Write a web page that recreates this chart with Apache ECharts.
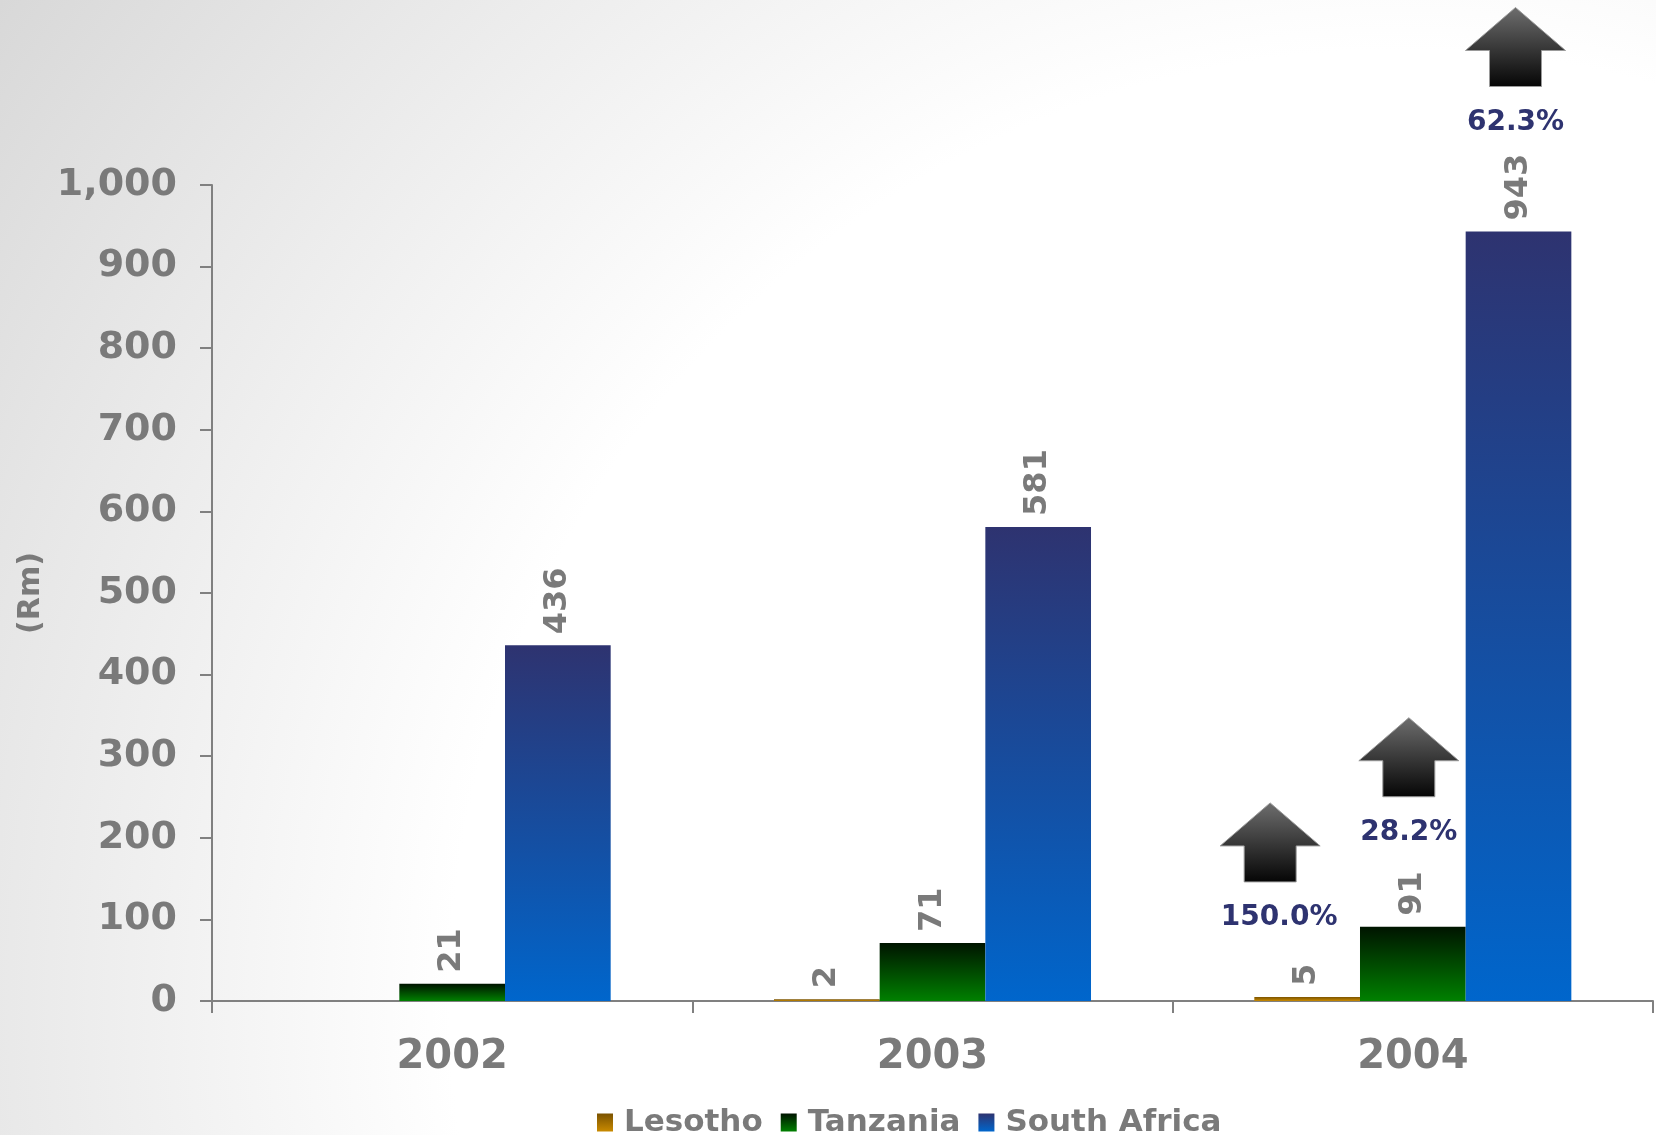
<!DOCTYPE html>
<html>
<head>
<meta charset="utf-8">
<title>Revenue by country (Rm)</title>
<script src="https://cdn.jsdelivr.net/npm/echarts@6/dist/echarts.min.js"></script>
<style>
  html, body { margin: 0; padding: 0; }
  #chart {
    width: 1656px;
    height: 1135px;
    background: radial-gradient(circle 1720px at 1400px 1000px, #ffffff 950px, #e8e8e8 1410px, #d8d8d8 1720px);
  }
</style>
</head>
<body>
<div id="chart"></div>
<script>
// ---- data ----
const categories = ['2002', '2003', '2004'];
const seriesNames = ['Lesotho', 'Tanzania', 'South Africa'];
const lesotho = [null, 2, 5];
const tanzania = [21, 71, 91];
const southAfrica = [436, 581, 943];
// growth 2003 -> 2004, one per country (same order as seriesNames)
const growth2004 = ['150.0%', '28.2%', '62.3%'];

// ---- style ----
const FONT = '"DejaVu Sans", Verdana, sans-serif';
const GREY = '#7a7a7a';
const NAVY = '#2e3370';
const BAR_RATIO = 0.22;

function vGrad(top, bottom) {
  return new echarts.graphic.LinearGradient(0, 0, 0, 1, [
    { offset: 0, color: top },
    { offset: 1, color: bottom }
  ]);
}
const fills = [
  vGrad('#7a5200', '#c98a00'),
  vGrad('#001400', '#008000'),
  vGrad('#2e3370', '#0066cc')
];

// horizontal nudge of each growth callout relative to its bar centre
const calloutShift = [
  { arrow: -37, text: -28 },
  { arrow: -4, text: -4 },
  { arrow: -3, text: -3 }
];

const barLabel = {
  show: true,
  position: 'top',
  rotate: 90,
  align: 'left',
  verticalAlign: 'middle',
  distance: 11,
  color: GREY,
  fontFamily: FONT,
  fontWeight: 'bold',
  fontSize: 32
};

function barSeries(name, values, idx) {
  return {
    name: name,
    type: 'bar',
    data: values,
    barWidth: (BAR_RATIO * 100) + '%',
    barGap: '0%',
    itemStyle: { color: fills[idx] },
    label: barLabel,
    emphasis: { disabled: true },
    z: 2
  };
}

// up-arrow callouts above the 2004 bars
const last = categories.length - 1;
const calloutData = growth2004.map((pct, s) => {
  const vals = [lesotho, tanzania, southAfrica][s];
  return [last, s, vals[last], pct];
});

function renderCallout(params, api) {
  const cat = api.value(0);
  const s = api.value(1);
  const v = api.value(2);
  const pct = calloutData[params.dataIndex][3];
  const top = api.coord([cat, v]);
  const band = api.size([1, 0])[0];
  const barW = band * BAR_RATIO;
  const barCx = top[0] + (s - 1) * barW;
  const digits = String(v).length;
  const textY = top[1] - (64 + 15 * digits);
  const ax = barCx + calloutShift[s].arrow;
  const bottom = textY - 36;
  const headBase = bottom - 36;
  const tip = bottom - 79;
  const headHalf = 50, shaftHalf = 26;
  return {
    type: 'group',
    children: [
      {
        type: 'polygon',
        shape: {
          points: [
            [ax, tip],
            [ax + headHalf, headBase],
            [ax + shaftHalf, headBase],
            [ax + shaftHalf, bottom],
            [ax - shaftHalf, bottom],
            [ax - shaftHalf, headBase],
            [ax - headHalf, headBase]
          ]
        },
        style: {
          fill: new echarts.graphic.LinearGradient(0, 0, 0, 1, [
            { offset: 0, color: '#6e6e6e' },
            { offset: 1, color: '#050505' }
          ]),
          stroke: '#9a9a9a',
          lineWidth: 1
        }
      },
      {
        type: 'text',
        style: {
          x: barCx + calloutShift[s].text,
          y: textY,
          text: pct,
          fill: NAVY,
          font: 'bold 28px ' + FONT,
          align: 'center',
          verticalAlign: 'middle'
        }
      }
    ]
  };
}

const chart = echarts.init(document.getElementById('chart'), null, { renderer: 'canvas' });

chart.setOption({
  backgroundColor: 'transparent',
  animation: false,
  textStyle: { fontFamily: FONT },
  grid: { left: 212, right: 3, top: 185, bottom: 134, containLabel: false },
  legend: {
    data: seriesNames.map((n, i) => ({ name: n, itemStyle: { color: fills[i] } })),
    left: 592,
    top: 1102,
    itemWidth: 16,
    itemHeight: 18,
    itemGap: 18,
    icon: 'rect',
    textStyle: {
      color: GREY,
      fontFamily: FONT,
      fontWeight: 'bold',
      fontSize: 31,
      padding: [0, 0, 0, 6]
    },
    selectedMode: false
  },
  xAxis: {
    type: 'category',
    data: categories,
    boundaryGap: true,
    axisLine: { lineStyle: { color: '#808080', width: 2 } },
    axisTick: { show: true, alignWithLabel: false, length: 12, lineStyle: { color: '#808080', width: 2 } },
    axisLabel: {
      color: GREY,
      fontFamily: FONT,
      fontWeight: 'bold',
      fontSize: 40,
      margin: 37
    },
    splitLine: { show: false }
  },
  yAxis: {
    type: 'value',
    min: 0,
    max: 1000,
    interval: 100,
    name: '(Rm)',
    nameLocation: 'middle',
    nameGap: 163,
    nameRotate: 90,
    nameTextStyle: {
      color: GREY,
      fontFamily: FONT,
      fontWeight: 'bold',
      fontSize: 30
    },
    axisLine: { show: true, lineStyle: { color: '#808080', width: 2 } },
    axisTick: { show: true, length: 12, lineStyle: { color: '#808080', width: 2 } },
    axisLabel: {
      color: GREY,
      fontFamily: FONT,
      fontWeight: 'bold',
      fontSize: 38,
      margin: 35,
      formatter: v => v.toLocaleString('en-US')
    },
    splitLine: { show: false }
  },
  series: [
    barSeries(seriesNames[0], lesotho, 0),
    barSeries(seriesNames[1], tanzania, 1),
    barSeries(seriesNames[2], southAfrica, 2),
    {
      name: 'growth',
      type: 'custom',
      coordinateSystem: 'cartesian2d',
      data: calloutData.map(d => [d[0], d[1], d[2]]),
      encode: { x: 0, y: 2 },
      renderItem: renderCallout,
      silent: true,
      z: 5
    }
  ]
});
</script>
</body>
</html>
